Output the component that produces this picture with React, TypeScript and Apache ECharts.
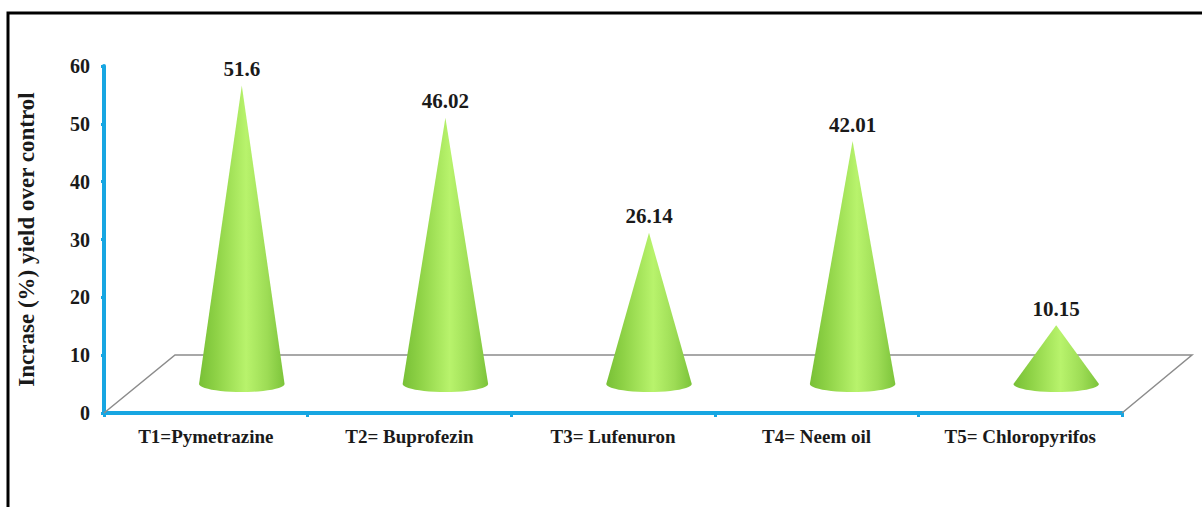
import React, { useEffect, useRef } from "react";
import * as echarts from "echarts";

const categories = ["T1=Pymetrazine", "T2= Buprofezin", "T3= Lufenuron", "T4= Neem oil", "T5= Chloropyrifos"];
const values = [51.6, 46.02, 26.14, 42.01, 10.15];
const yTicks = [0, 10, 20, 30, 40, 50, 60];

const FONT = "'Liberation Serif', 'DejaVu Serif', serif";
const BLUE = "#17a6e2";

export default function App() {
  const ref = useRef<HTMLDivElement>(null);
  useEffect(() => {
    if (!ref.current) return;
    const chart = echarts.init(ref.current, null, { renderer: "svg" });
    const dx = 36;
    const dy = -29;
    const option: any = {
      animation: false,
      backgroundColor: "#ffffff",
      grid: { left: 104, right: 80, top: 66, bottom: 94 },
      graphic: [
        {
          type: "rect",
          z: 0,
          shape: { x: 8, y: 13, width: 1300, height: 600 },
          style: { fill: "none", stroke: "#000", lineWidth: 3 },
        },
        {
          type: "polyline",
          z: 1,
          shape: { points: [[104, 413], [175, 355], [1192, 355], [1122, 413]] },
          style: { fill: "none", stroke: "#8c8c8c", lineWidth: 1.5 },
        },
      ],
      xAxis: {
        type: "category",
        data: categories,
        boundaryGap: true,
        axisLine: { lineStyle: { color: BLUE, width: 4 } },
        axisTick: { show: true, interval: 0, length: 4, lineStyle: { color: BLUE, width: 3 } },
        axisLabel: {
          interval: 0,
          hideOverlap: false,
          margin: 14,
          fontFamily: FONT,
          fontSize: 19,
          fontWeight: "bold",
          color: "#1a1a1a",
        },
        splitLine: { show: false },
      },
      yAxis: {
        type: "value",
        min: 0,
        max: 60,
        interval: 10,
        name: "Incrase (%) yield over control",
        nameLocation: "middle",
        nameGap: 66,
        nameTextStyle: { fontFamily: FONT, fontSize: 23, fontWeight: "bold", color: "#1a1a1a" },
        axisLine: { show: true, lineStyle: { color: BLUE, width: 4 } },
        axisTick: { show: true, length: 3, lineStyle: { color: BLUE, width: 3 } },
        axisLabel: {
          margin: 14,
          fontFamily: FONT,
          fontSize: 20,
          fontWeight: "bold",
          color: "#1a1a1a",
          formatter: (v: number) => (yTicks.includes(v) ? String(v) : ""),
        },
        splitLine: { show: false },
      },
      series: [
        {
          type: "custom",
          z: 3,
          data: values.map((v, i) => [i, v]),
          renderItem: (params: any, api: any) => {
            const i = api.value(0);
            const v = api.value(1);
            const base = api.coord([i, 0]);
            const top = api.coord([i, v]);
            const hw = api.size([1, 0])[0] * 0.21;
            const ry = 8;
            const cx = base[0] + dx;
            const cy = base[1] + dy;
            const ax = top[0] + dx;
            const ay = top[1] + dy;
            const pts: number[][] = [[ax, ay], [cx - hw, cy]];
            for (let k = 1; k < 24; k++) {
              const t = Math.PI - (Math.PI * k) / 24;
              pts.push([cx + hw * Math.cos(t), cy + ry * Math.sin(Math.PI - t)]);
            }
            pts.push([cx + hw, cy]);
            const grad = new echarts.graphic.LinearGradient(0, 0, 1, 0, [
              { offset: 0, color: "#78c036" },
              { offset: 0.2, color: "#8ed246" },
              { offset: 0.55, color: "#b8f36c" },
              { offset: 0.8, color: "#9ddc55" },
              { offset: 1, color: "#7cc43a" },
            ]);
            return {
              type: "group",
              children: [
                {
                  type: "polygon",
                  shape: { points: pts },
                  style: { fill: grad },
                },
                {
                  type: "text",
                  style: {
                    text: String(values[i]),
                    x: ax,
                    y: ay - 6,
                    textAlign: "center",
                    textVerticalAlign: "bottom",
                    fontFamily: FONT,
                    fontSize: 21,
                    fontWeight: "bold",
                    fill: "#1a1a1a",
                  },
                },
              ],
            };
          },
        },
      ],
    };
    chart.setOption(option);
    return () => chart.dispose();
  }, []);
  return (
    <div
      ref={ref}
      style={{ position: "absolute", left: 0, top: 0, width: 1202, height: 507 }}
    />
  );
}
